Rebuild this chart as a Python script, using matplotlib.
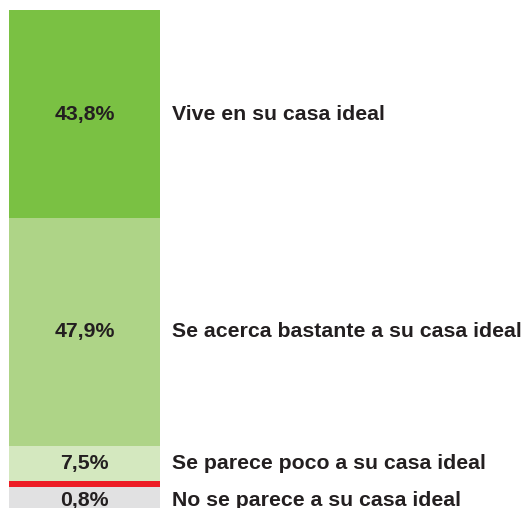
import matplotlib
matplotlib.use("Agg")
import matplotlib.pyplot as plt

# Data
categories = ["Vive en su casa ideal",
              "Se acerca bastante a su casa ideal",
              "Se parece poco a su casa ideal",
              "No se parece a su casa ideal"]
values = [43.8, 47.9, 7.5, 0.8]
value_labels = ["43,8%", "47,9%", "7,5%", "0,8%"]

colors = ["#7ac143", "#aed487", "#d4e8bf", "#e1e1e2"]
text_color = "#231f20"
red = "#ed1c24"

W, H, DPI = 527, 508, 100
fig = plt.figure(figsize=(W / DPI, H / DPI), dpi=DPI)
ax = fig.add_axes([0, 0, 1, 1])
ax.set_axis_off()

# layout (pixel-based scale)
px_per_unit_y = 4.75
top_px = 10
bar_left_px, bar_right_px = 9, 160
px_per_unit_x = bar_right_px - bar_left_px
ax.set_xlim(-0.5 - bar_left_px / px_per_unit_x, 0.5 + (W - bar_right_px) / px_per_unit_x)
ax.set_ylim((H - top_px) / px_per_unit_y, -top_px / px_per_unit_y)

min_display = 6.8  # minimum displayed height for tiny segment
red_thick = 6 / px_per_unit_y

fs = 15.3
font = dict(family=["Liberation Sans", "DejaVu Sans"], fontweight="bold",
            fontsize=fs, color=text_color)

bottom = 0.0
for i, (v, c) in enumerate(zip(values, colors)):
    h = max(v, min_display) if i == len(values) - 1 else v
    ax.bar(0, h, bottom=bottom, width=1.0, color=c, linewidth=0, align="center")
    if i == len(values) - 1:
        ax.bar(0, red_thick, bottom=bottom, width=1.0, color=red, linewidth=0)
        yc = bottom + red_thick + (h - red_thick) / 2
    else:
        yc = bottom + h / 2
    ax.text(0, yc, value_labels[i], ha="center", va="center", **font)
    ax.text(0.5 + 12 / px_per_unit_x, yc, categories[i], ha="left", va="center", **font)
    bottom += h

fig.savefig("out.png", dpi=DPI)
